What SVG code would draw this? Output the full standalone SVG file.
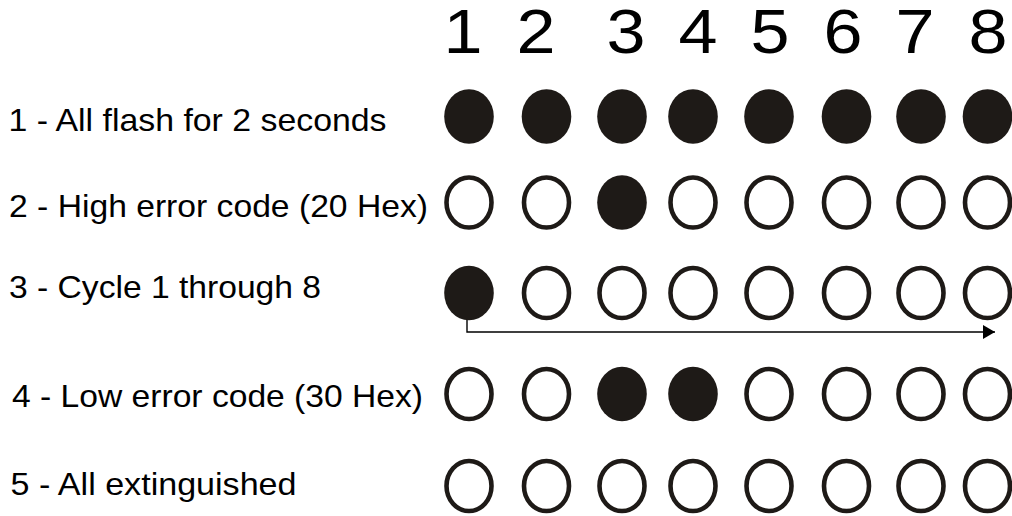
<svg xmlns="http://www.w3.org/2000/svg" width="1012" height="516" viewBox="0 0 1012 516">
<style>
.lbl{font-family:"Liberation Sans",Arial,sans-serif;font-size:31.5px;fill:#000}
.num{font-family:"Liberation Sans",Arial,sans-serif;font-size:63px;fill:#000;text-anchor:middle}
.on{fill:#1e1a17;stroke:none}
.off{fill:#fff;stroke:#1e1a17;stroke-width:4.6}
.conn{fill:none;stroke:#000;stroke-width:1.4}
</style>
<defs>
<ellipse id="on" class="on" cx="0" cy="0" rx="24.8" ry="27.3"/>
<ellipse id="off" class="off" cx="0" cy="0" rx="22.5" ry="25"/>
<marker id="ah" markerUnits="userSpaceOnUse" markerWidth="14" markerHeight="16" refX="12" refY="7" orient="auto">
<path d="M0,0 L12,7 L0,14 Z" fill="#000"/>
</marker>
</defs>
<rect width="1012" height="516" fill="#fff"/>
<g id="header">
<text class="num" x="463" y="53" textLength="39" lengthAdjust="spacingAndGlyphs">1</text>
<text class="num" x="536" y="53" textLength="39" lengthAdjust="spacingAndGlyphs">2</text>
<text class="num" x="626" y="53" textLength="39" lengthAdjust="spacingAndGlyphs">3</text>
<text class="num" x="698" y="53" textLength="39" lengthAdjust="spacingAndGlyphs">4</text>
<text class="num" x="770" y="53" textLength="39" lengthAdjust="spacingAndGlyphs">5</text>
<text class="num" x="843" y="53" textLength="39" lengthAdjust="spacingAndGlyphs">6</text>
<text class="num" x="915" y="53" textLength="39" lengthAdjust="spacingAndGlyphs">7</text>
<text class="num" x="988" y="53" textLength="39" lengthAdjust="spacingAndGlyphs">8</text>
</g>
<g id="labels">
<text id="label1" class="lbl" x="8.5" y="130.7" textLength="378" lengthAdjust="spacingAndGlyphs">1 - All flash for 2 seconds</text>
<text id="label2" class="lbl" x="9" y="216.7" textLength="419" lengthAdjust="spacingAndGlyphs">2 - High error code (20 Hex)</text>
<text id="label3" class="lbl" x="9" y="298" textLength="312" lengthAdjust="spacingAndGlyphs">3 - Cycle 1 through 8</text>
<text id="label4" class="lbl" x="12" y="406.7" textLength="411" lengthAdjust="spacingAndGlyphs">4 - Low error code (30 Hex)</text>
<text id="label5" class="lbl" x="10.5" y="495" textLength="286" lengthAdjust="spacingAndGlyphs">5 - All extinguished</text>
</g>
<g id="row1">
<use href="#on" x="469" y="116.5"/><use href="#on" x="546.5" y="116.5"/><use href="#on" x="622" y="116.5"/><use href="#on" x="693" y="116.5"/>
<use href="#on" x="769" y="116.5"/><use href="#on" x="846.5" y="116.5"/><use href="#on" x="921" y="116.5"/><use href="#on" x="987.5" y="116.5"/>
</g>
<g id="row2">
<use href="#off" x="469" y="202.5"/><use href="#off" x="546.5" y="202.5"/><use href="#on" x="622" y="202.5"/><use href="#off" x="693" y="202.5"/>
<use href="#off" x="769" y="202.5"/><use href="#off" x="846.5" y="202.5"/><use href="#off" x="921" y="202.5"/><use href="#off" x="987.5" y="202.5"/>
</g>
<g id="row3">
<use href="#on" x="469" y="293"/><use href="#off" x="546.5" y="293"/><use href="#off" x="622" y="293"/><use href="#off" x="693" y="293"/>
<use href="#off" x="769" y="293"/><use href="#off" x="846.5" y="293"/><use href="#off" x="921" y="293"/><use href="#off" x="987.5" y="293"/>
</g>
<g id="row4">
<use href="#off" x="469" y="394"/><use href="#off" x="546.5" y="394"/><use href="#on" x="622" y="394"/><use href="#on" x="693" y="394"/>
<use href="#off" x="769" y="394"/><use href="#off" x="846.5" y="394"/><use href="#off" x="921" y="394"/><use href="#off" x="987.5" y="394"/>
</g>
<g id="row5">
<use href="#off" x="469" y="486"/><use href="#off" x="546.5" y="486"/><use href="#off" x="622" y="486"/><use href="#off" x="693" y="486"/>
<use href="#off" x="769" y="486"/><use href="#off" x="846.5" y="486"/><use href="#off" x="921" y="486"/><use href="#off" x="987.5" y="486"/>
</g>
<g id="connectors">
<path class="conn" d="M467,320 V332 H995" marker-end="url(#ah)"/>
</g>
</svg>
